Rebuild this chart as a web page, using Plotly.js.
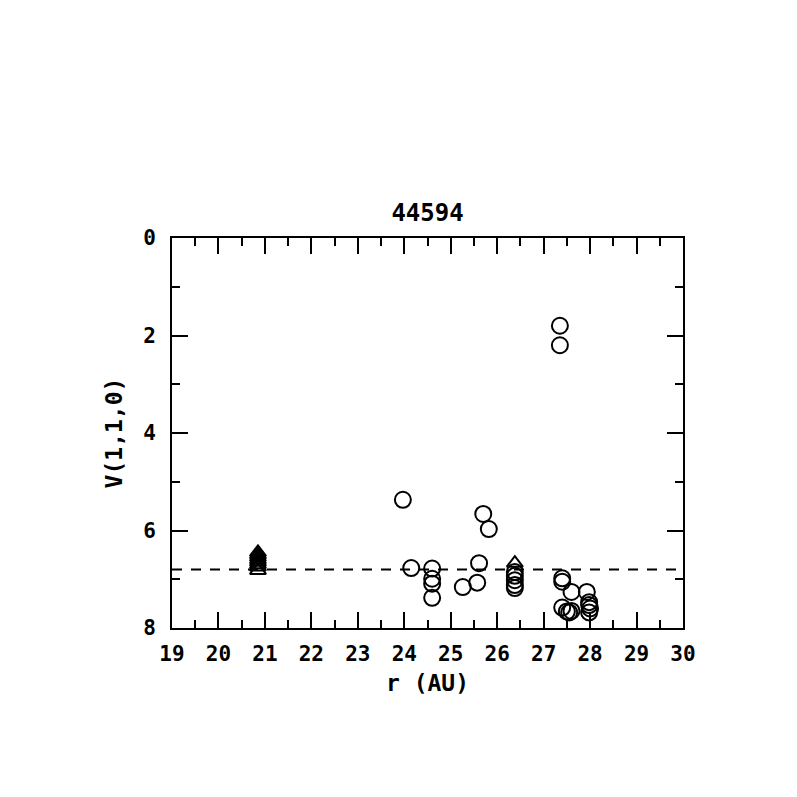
<!DOCTYPE html>
<html><head><meta charset="utf-8">
<script src="https://cdn.plot.ly/plotly-3.0.1.min.js"></script>
<style>html,body{margin:0;padding:0;background:#fff;}#plot{width:797px;height:797px;}</style>
</head><body><div id="plot"></div>
<script>
const chartTitle = '44594';
const xLabel = 'r (AU)';
const yLabel = 'V(1,1,0)';
const refLevel = 6.8;
const xRange = [19, 30];
const yRange = [8, 0];

const triX = [20.85, 20.85, 20.85, 20.85, 20.85, 20.85, 20.85, 20.85, 26.38];
const triY = [6.45, 6.5, 6.55, 6.6, 6.65, 6.7, 6.75, 6.82, 6.67];

const circX = [23.97, 24.15, 24.6, 24.6, 24.6, 24.6, 25.26, 25.57, 25.61, 25.7, 25.82,
  26.38, 26.38, 26.38, 26.38, 26.38, 27.35, 27.35, 27.4, 27.4, 27.6, 27.93,
  27.4, 27.5, 27.55, 27.6, 27.98, 27.98, 28.0, 27.98];
const circY = [5.37, 6.77, 6.78, 6.99, 7.09, 7.38, 7.16, 7.07, 6.67, 5.66, 5.97,
  6.85, 6.93, 7.02, 7.12, 7.18, 1.8, 2.2, 6.98, 7.05, 7.26, 7.26,
  7.58, 7.66, 7.68, 7.65, 7.47, 7.53, 7.6, 7.68];

const FAM = '"DejaVu Sans Mono", monospace';
const TICKFONT = {family: FAM, size: 21, color: '#000', weight: 'bold'};
const AXFONT = {family: FAM, size: 23, color: '#000', weight: 'bold'};
const TITLEFONT = {family: FAM, size: 24, color: '#000', weight: 'bold'};

const traces = [
  {x: xRange, y: [refLevel, refLevel], mode: 'lines', type: 'scatter',
   line: {color: '#000', width: 2, dash: '10px,9px'}, hoverinfo: 'skip'},
  {x: circX, y: circY, mode: 'markers', type: 'scatter',
   marker: {symbol: 'circle-open', size: 16, color: '#000', line: {width: 2, color: '#000'}}},
  {x: triX, y: triY, mode: 'markers', type: 'scatter',
   marker: {symbol: 'triangle-up-open', size: 14, color: '#000', line: {width: 2, color: '#000'}}}
];

const axisCommon = {
  showgrid: false, zeroline: false, showline: true, linecolor: '#000', linewidth: 2,
  mirror: 'ticks', ticks: 'inside', ticklen: 16, tickwidth: 2, tickcolor: '#000',
  tickfont: TICKFONT
};

const layout = {
  width: 797, height: 797,
  margin: {l: 172, r: 114, t: 238, b: 169, pad: 0},
  paper_bgcolor: '#fff', plot_bgcolor: '#fff',
  showlegend: false,
  font: TICKFONT,
  title: {text: chartTitle, font: TITLEFONT, x: 0.5, xref: 'paper', xanchor: 'center',
          y: 1 - 213/797, yref: 'container', yanchor: 'middle'},
  xaxis: Object.assign({}, axisCommon, {
    range: xRange, dtick: 1, tick0: 19,
    minor: {ticks: 'inside', ticklen: 8, tickwidth: 2, tickcolor: '#000', dtick: 0.5},
    ticklabelstandoff: 6,
    title: {text: xLabel, font: AXFONT, standoff: 10}
  }),
  yaxis: Object.assign({}, axisCommon, {
    range: yRange, dtick: 2, tick0: 0,
    minor: {ticks: 'inside', ticklen: 8, tickwidth: 2, tickcolor: '#000', dtick: 1},
    ticklabelstandoff: 10,
    title: {text: yLabel, font: AXFONT, standoff: 14}
  })
};

Plotly.newPlot('plot', traces, layout, {displayModeBar: false, staticPlot: true});
</script></body></html>
